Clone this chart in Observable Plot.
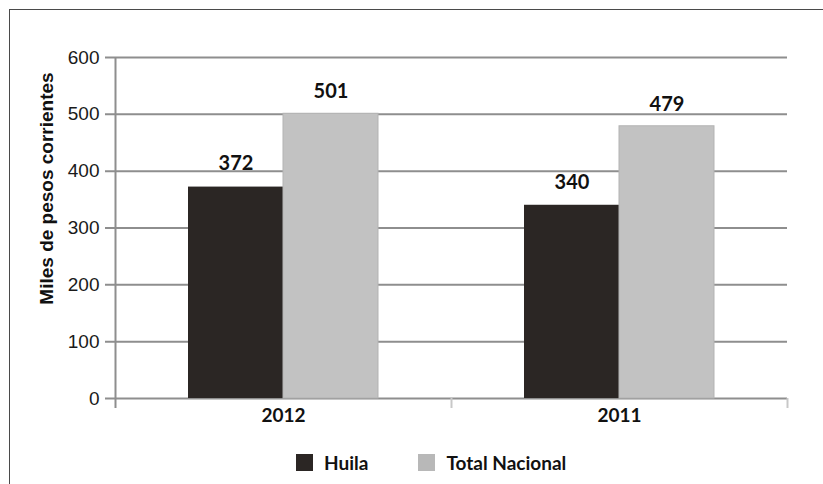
<!DOCTYPE html>
<html><head><meta charset="utf-8">
<script src="https://cdn.jsdelivr.net/npm/d3@7"></script>
<script src="https://cdn.jsdelivr.net/npm/@observablehq/plot@0.6"></script>
<style>
body{margin:0;background:#fff;}
#wrap{position:relative;width:823px;height:484px;overflow:hidden;background:#fff;}
#border{position:absolute;left:9px;top:9px;width:900px;height:600px;border-left:1.5px solid #4a4a4a;border-top:1.5px solid #4a4a4a;pointer-events:none;}
#legend{position:absolute;left:0;top:440px;height:44px;width:823px;display:flex;align-items:center;font-family:Lato,sans-serif;font-weight:bold;font-size:19px;color:#111;}
#legend .item{display:flex;align-items:center;}
#legend .sw{width:17px;height:17px;margin-right:11px;}
</style></head><body>
<div id="wrap"><div id="chart"></div><div id="legend"></div><div id="border"></div></div>
<script>
const years = ["2012", "2011"];
const series = ["Huila", "Total Nacional"];
const huila = [372, 340];
const totalNacional = [501, 479];
const yTicks = [0, 100, 200, 300, 400, 500, 600];
const yTitle = "Miles de pesos corrientes";
const colors = ["#2b2624", "#c2c2c2"];

const data = years.flatMap((year, i) => [
  {year, series: series[0], value: huila[i]},
  {year, series: series[1], value: totalNacional[i]}
]);

const W = 823, H = 440, ml = 115, mr = 36, mt = 57, mb = 42;
const band = (W - ml - mr) / years.length;
const barW = 95;
const outer = (band - 2 * barW) / 2;
const k = (H - mt - mb) / 600;
const below = -10 / k;

const hData = data.filter(d => d.series === series[0]);
const tData = data.filter(d => d.series === series[1]);

const chart = Plot.plot({
  width: W, height: H,
  marginLeft: ml, marginRight: mr, marginTop: mt, marginBottom: mb,
  x: {type: "band", domain: years, paddingInner: 0, paddingOuter: 0, label: null},
  y: {domain: [0, 600], label: null},
  style: {background: "transparent"},
  marks: [
    Plot.ruleY(yTicks, {y: d => d, stroke: "#8e8e8e", strokeWidth: 2, insetLeft: -10}),
    Plot.ruleX([years[0]], {x: d => d, dx: -band / 2, y1: below, y2: 600, stroke: "#8e8e8e", strokeWidth: 2}),
    Plot.ruleX(years, {x: d => d, dx: band / 2, y1: below, y2: 0, stroke: "#c8c8c8", strokeWidth: 2}),
    Plot.barY(hData, {x: "year", y: "value", fill: colors[0], insetLeft: outer, insetRight: band - outer - barW}),
    Plot.barY(tData, {x: "year", y: "value", fill: colors[1], stroke: "#b3b3b3", strokeWidth: 1, insetLeft: outer + barW, insetRight: outer}),
    Plot.text(hData, {x: "year", y: "value", text: d => String(d.value), dx: -barW / 2, dy: -23, fontSize: 20, fontWeight: "bold", fontFamily: "Lato", fill: "#111"}),
    Plot.text(tData, {x: "year", y: "value", text: d => String(d.value), dx: barW / 2, dy: -22, fontSize: 20, fontWeight: "bold", fontFamily: "Lato", fill: "#111"}),
    Plot.axisY({ticks: yTicks, tickSize: 0, tickPadding: 16, fontSize: 19, fontFamily: "Liberation Sans", fill: "#1a1a1a", stroke: "#1a1a1a", strokeWidth: 0.4, label: null}),
    Plot.axisX({tickSize: 0, tickPadding: 10, fontSize: 19, fontWeight: "bold", fontFamily: "Lato", fill: "#111", label: null}),
    Plot.text([yTitle], {frameAnchor: "top-left", text: d => d, rotate: -90, dx: -69, dy: 131, textAnchor: "middle", lineAnchor: "middle", fontSize: 19, fontWeight: "bold", fontFamily: "Liberation Sans", fill: "#111"})
  ]
});
document.getElementById("chart").appendChild(chart);

const legend = document.getElementById("legend");
legend.style.paddingLeft = "296px";
series.forEach((s, i) => {
  const item = document.createElement("div");
  item.className = "item";
  if (i > 0) item.style.marginLeft = "50px";
  const sw = document.createElement("div");
  sw.className = "sw";
  sw.style.background = i === 0 ? colors[0] : "#b8b8b8";
  const t = document.createElement("span");
  t.textContent = s;
  item.appendChild(sw); item.appendChild(t);
  legend.appendChild(item);
});
</script>
</body></html>
